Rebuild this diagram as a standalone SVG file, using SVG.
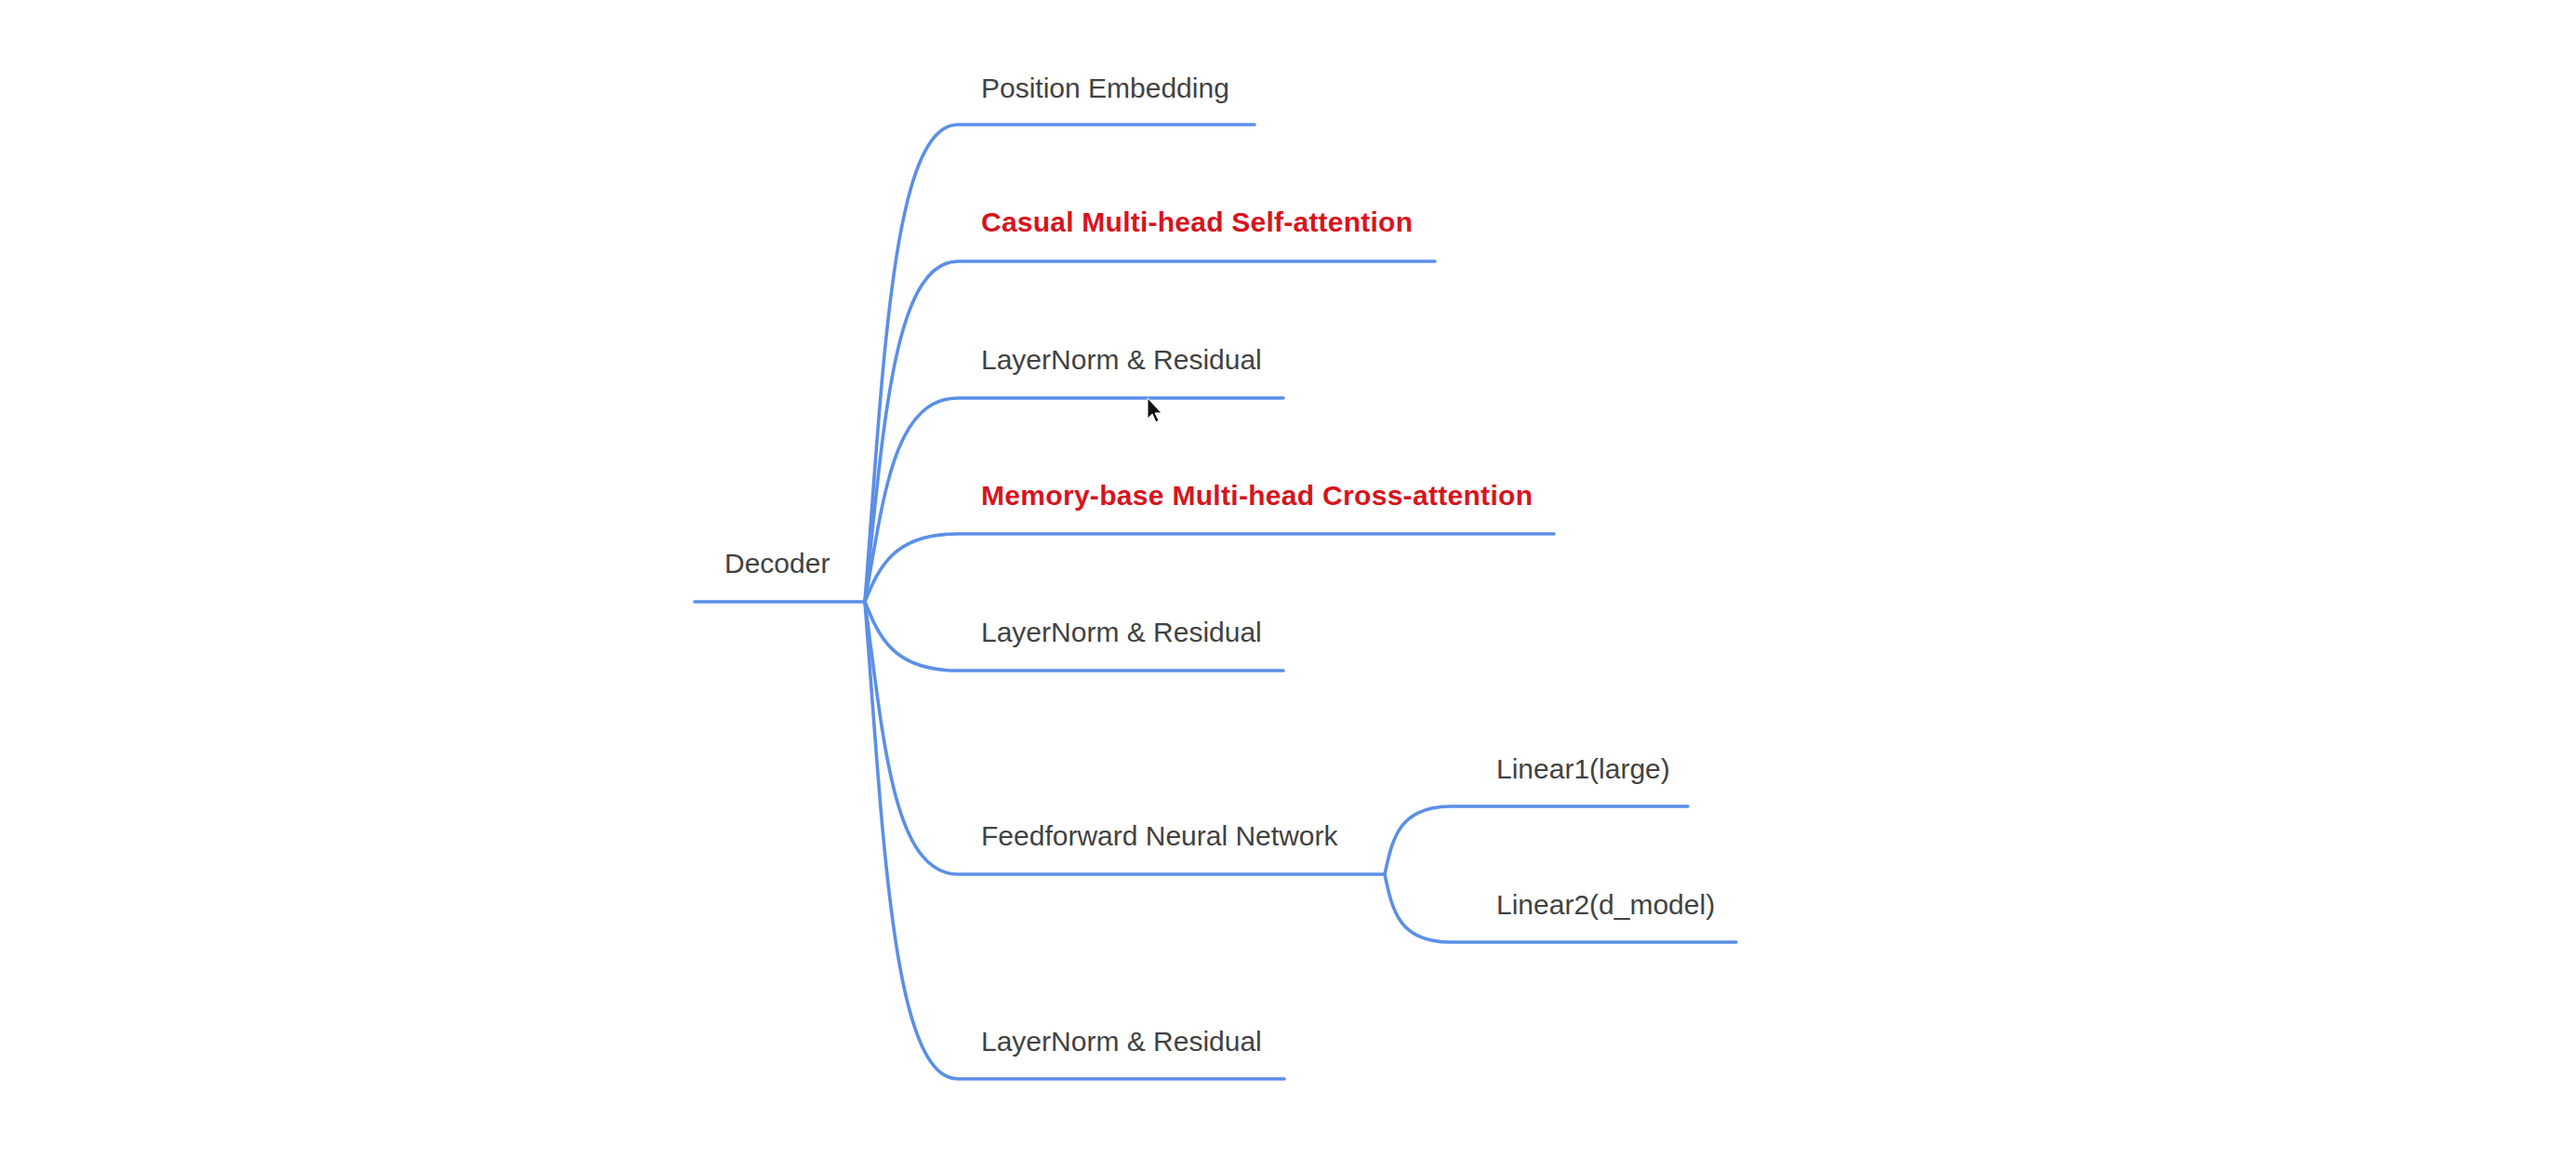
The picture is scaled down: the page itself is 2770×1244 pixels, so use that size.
<svg xmlns="http://www.w3.org/2000/svg" width="2770" height="1244" viewBox="0 0 2770 1244">
<style>
.c{fill:none;stroke:#5b8fe8;stroke-width:3.6;stroke-linecap:round}
.t{font-family:"Liberation Sans",Arial,sans-serif;font-size:30px;fill:#424242}
.r{font-family:"Liberation Sans",Arial,sans-serif;font-size:30px;font-weight:bold;fill:#d7141d}
</style>
<rect width="2770" height="1244" fill="#ffffff"/>
<g id="connectors">
<path class="c" d="M747 647 L930 647"/>
<path class="c" d="M930 647 C950 390 960 134 1030 134 L1349 134"/>
<path class="c" d="M930 647 C950 464 960 281 1030 281 L1543 281"/>
<path class="c" d="M930 647 C950 537 960 428 1030 428 L1380 428"/>
<path class="c" d="M930 647 C945 611 960 574 1030 574 L1671 574"/>
<path class="c" d="M930 647 C945 684 960 721 1030 721 L1380 721"/>
<path class="c" d="M930 647 C950 794 960 940 1030 940 L1489 940"/>
<path class="c" d="M930 647 C950 903 960 1160 1030 1160 L1381 1160"/>
<path class="c" d="M1489 940 C1497 904 1503 867 1560 867 L1815 867"/>
<path class="c" d="M1489 940 C1497 977 1503 1013 1560 1013 L1867 1013"/>
</g>
<g id="decoder"><text class="t" x="779" y="616">Decoder</text></g>
<g id="position-embedding"><text class="t" x="1055" y="105">Position Embedding</text></g>
<g id="casual-self-attention"><text class="r" x="1055" y="249" textLength="464" lengthAdjust="spacing">Casual Multi-head Self-attention</text></g>
<g id="layernorm-1"><text class="t" x="1055" y="397">LayerNorm &amp; Residual</text></g>
<g id="memory-cross-attention"><text class="r" x="1055" y="543" textLength="593" lengthAdjust="spacing">Memory-base Multi-head Cross-attention</text></g>
<g id="layernorm-2"><text class="t" x="1055" y="690">LayerNorm &amp; Residual</text></g>
<g id="feedforward"><text class="t" x="1055" y="909">Feedforward Neural Network</text></g>
<g id="linear1"><text class="t" x="1609" y="837">Linear1(large)</text></g>
<g id="linear2"><text class="t" x="1609" y="983">Linear2(d_model)</text></g>
<g id="layernorm-3"><text class="t" x="1055" y="1130">LayerNorm &amp; Residual</text></g>
<polygon points="1234,428 1234,450 1239,445 1243,454 1246,452 1242,444 1249,444" fill="#111" stroke="#fff" stroke-width="1"/>
</svg>
